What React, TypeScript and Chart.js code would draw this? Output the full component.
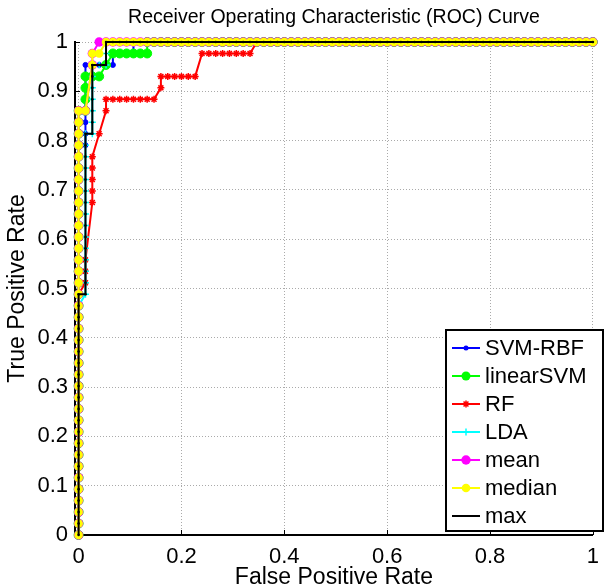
import React, { useEffect, useRef } from "react";
import { Chart, registerables } from "chart.js";

Chart.register(...registerables);

const NEGATIVES = 75;
const POSITIVES = 43;

const xTickValues = [0, 0.2, 0.4, 0.6, 0.8, 1];
const yTickValues = [0, 0.1, 0.2, 0.3, 0.4, 0.5, 0.6, 0.7, 0.8, 0.9, 1];

const chartTitle = "Receiver Operating Characteristic (ROC) Curve";
const xAxisTitle = "False Positive Rate";
const yAxisTitle = "True Positive Rate";

const seriesNames = ["SVM-RBF", "linearSVM", "RF", "LDA", "mean", "median", "max"];
const seriesColors = ["#0000ff", "#00ff00", "#ff0000", "#00ffff", "#ff00ff", "#ffff00", "#000000"];

// ROC paths: [negatives passed, positives passed, repeat]
const svmRbfMoves = [[0, 1, 34], [1, 0, 1], [0, 1, 7], [1, 0, 4], [0, 1, 1], [1, 0, 3], [0, 1, 1], [1, 0, 67]];
const linearSvmMoves = [[0, 1, 37], [1, 0, 1], [0, 1, 3], [1, 0, 2], [1, 1, 1], [1, 1, 1], [1, 0, 5], [0, 1, 1], [1, 0, 65]];
const rfMoves = [[0, 1, 21], [1, 1, 1], [0, 1, 2], [1, 5, 1], [0, 1, 4], [1, 2, 1], [1, 2, 1], [0, 1, 1], [1, 0, 7], [1, 1, 1], [0, 1, 1], [1, 0, 5], [1, 2, 1], [1, 0, 7], [1, 1, 1], [1, 0, 49]];
const ldaMoves = [[0, 1, 20], [1, 1, 1], [0, 1, 14], [1, 0, 1], [0, 1, 6], [1, 0, 2], [0, 1, 2], [1, 0, 71]];
const meanMoves = [[0, 1, 37], [1, 0, 1], [1, 4, 1], [0, 1, 1], [1, 1, 1], [1, 0, 72]];
const medianMoves = [[0, 1, 37], [1, 0, 1], [1, 4, 1], [0, 1, 1], [1, 0, 1], [1, 1, 1], [1, 0, 71]];
const maxMoves = [[0, 1, 21], [1, 0, 1], [0, 1, 14], [1, 0, 1], [0, 1, 6], [1, 0, 2], [0, 1, 2], [1, 0, 71]];

const seriesMoves = [svmRbfMoves, linearSvmMoves, rfMoves, ldaMoves, meanMoves, medianMoves, maxMoves];

type MarkerStyle = { style: string; radius: number; fill: boolean; width: number };
const seriesMarkers: MarkerStyle[] = [
  { style: "circle", radius: 2.5, fill: true, width: 1 },
  { style: "circle", radius: 4.5, fill: true, width: 1 },
  { style: "star", radius: 3.5, fill: false, width: 1.5 },
  { style: "cross", radius: 3.5, fill: false, width: 1.5 },
  { style: "circle", radius: 4.7, fill: true, width: 0 },
  { style: "circle", radius: 4.3, fill: true, width: 0 },
  { style: "circle", radius: 1.3, fill: true, width: 0 },
];

const FONT = "'Liberation Sans', Arial, sans-serif";

function buildPoints(moves: number[][]) {
  let fp = 0;
  let tp = 0;
  const pts = [{ x: 0, y: 0 }];
  for (const [dx, dy, n] of moves) {
    for (let i = 0; i < n; i++) {
      fp += dx;
      tp += dy;
      pts.push({ x: fp / NEGATIVES, y: tp / POSITIVES });
    }
  }
  return pts;
}

function drawMarker(ctx: CanvasRenderingContext2D, m: MarkerStyle, color: string, x: number, y: number) {
  ctx.save();
  ctx.fillStyle = color;
  ctx.strokeStyle = color;
  ctx.lineWidth = m.width || 1;
  const r = m.radius;
  ctx.beginPath();
  if (m.style === "circle") {
    ctx.arc(x, y, r, 0, Math.PI * 2);
    ctx.fill();
  } else if (m.style === "cross") {
    ctx.moveTo(x - r, y);
    ctx.lineTo(x + r, y);
    ctx.moveTo(x, y - r);
    ctx.lineTo(x, y + r);
    ctx.stroke();
  } else if (m.style === "star") {
    const d = r * 0.7;
    ctx.moveTo(x - r, y);
    ctx.lineTo(x + r, y);
    ctx.moveTo(x, y - r);
    ctx.lineTo(x, y + r);
    ctx.moveTo(x - d, y - d);
    ctx.lineTo(x + d, y + d);
    ctx.moveTo(x - d, y + d);
    ctx.lineTo(x + d, y - d);
    ctx.stroke();
  }
  ctx.restore();
}

const decorPlugin = {
  id: "decor",
  beforeDatasetsDraw(chart: any) {
    const { ctx, chartArea, scales } = chart;
    ctx.save();
    ctx.strokeStyle = "#000";
    ctx.lineWidth = 1;
    ctx.beginPath();
    for (const v of yTickValues) {
      const py = Math.round(scales.y.getPixelForValue(v)) + 0.5;
      ctx.moveTo(chartArea.left, py);
      ctx.lineTo(chartArea.left + 5, py);
    }
    for (const v of xTickValues) {
      const px = Math.round(scales.x.getPixelForValue(v)) + 0.5;
      ctx.moveTo(px, chartArea.bottom);
      ctx.lineTo(px, chartArea.bottom - 5);
    }
    ctx.stroke();
    ctx.restore();
  },
  afterDraw(chart: any) {
    const { ctx, chartArea } = chart;
    ctx.save();
    ctx.fillStyle = "#000";
    ctx.font = `19.5px ${FONT}`;
    ctx.textAlign = "center";
    ctx.textBaseline = "middle";
    ctx.fillText(chartTitle, (chartArea.left + chartArea.right) / 2, 18);
    ctx.restore();

    const boxL = 446;
    const boxR = 603;
    const boxT = 330;
    const boxB = 531;
    ctx.save();
    ctx.fillStyle = "#fff";
    ctx.fillRect(boxL, boxT, boxR - boxL, boxB - boxT);
    ctx.strokeStyle = "#000";
    ctx.lineWidth = 2;
    ctx.strokeRect(boxL, boxT, boxR - boxL, boxB - boxT);
    ctx.font = `22px ${FONT}`;
    ctx.textAlign = "left";
    ctx.textBaseline = "middle";
    seriesNames.forEach((name, i) => {
      const cy = 348 + i * 28;
      ctx.strokeStyle = seriesColors[i];
      ctx.lineWidth = 2;
      ctx.beginPath();
      ctx.moveTo(452, cy);
      ctx.lineTo(480, cy);
      ctx.stroke();
      if (name !== "max") drawMarker(ctx, seriesMarkers[i], seriesColors[i], 466, cy);
      ctx.fillStyle = "#000";
      ctx.fillText(name, 485, cy + 1);
    });
    ctx.restore();
  },
};

export default function App() {
  const ref = useRef<HTMLCanvasElement | null>(null);
  useEffect(() => {
    if (!ref.current) return;
    const datasets = seriesNames.map((name, i) => {
      const m = seriesMarkers[i];
      return {
        label: name,
        data: buildPoints(seriesMoves[i]),
        borderColor: seriesColors[i],
        backgroundColor: seriesColors[i],
        borderWidth: 2,
        pointStyle: m.style,
        pointRadius: m.radius,
        pointBorderWidth: m.width,
        pointBackgroundColor: seriesColors[i],
        pointBorderColor: seriesColors[i],
        showLine: true,
        tension: 0,
        clip: false as any,
        order: seriesNames.length - i,
      };
    });
    const chart = new Chart(ref.current, {
      type: "line",
      data: { datasets },
      options: {
        animation: false,
        responsive: false,
        devicePixelRatio: 1,
        layout: { padding: { top: 42, right: 3, left: 0, bottom: 0 } },
        plugins: {
          legend: { display: false },
          title: { display: false },
          tooltip: { enabled: false },
        },
        scales: {
          x: {
            type: "linear",
            min: -0.007,
            max: 1,
            afterBuildTicks: (s: any) => {
              s.ticks = xTickValues.map((v) => ({ value: v }));
            },
            afterFit: (s: any) => {
              s.height = 53;
            },
            grid: { color: "#aaaaaa", lineWidth: 1, drawTicks: false },
            border: { display: true, color: "#000", width: 2, dash: [1, 2] },
            ticks: {
              color: "#000",
              padding: 9,
              maxRotation: 0,
              font: { family: FONT, size: 22 },
              callback: (v: any) => String(v),
            },
            title: {
              display: true,
              text: xAxisTitle,
              color: "#000",
              font: { family: FONT, size: 23, lineHeight: 1.0 },
              padding: { top: 0, bottom: -1 },
            },
          },
          y: {
            type: "linear",
            min: 0,
            max: 1,
            afterBuildTicks: (s: any) => {
              s.ticks = yTickValues.map((v) => ({ value: v }));
            },
            afterFit: (s: any) => {
              s.width = 75;
            },
            grid: { color: "#aaaaaa", lineWidth: 1, drawTicks: false },
            border: { display: true, color: "#000", width: 2, dash: [1, 2] },
            ticks: {
              color: "#000",
              padding: 7,
              font: { family: FONT, size: 22 },
              callback: (v: any) => String(v),
            },
            title: {
              display: true,
              text: yAxisTitle,
              color: "#000",
              font: { family: FONT, size: 23 },
              padding: { top: 4, bottom: 0 },
            },
          },
        },
      } as any,
      plugins: [decorPlugin],
    });
    return () => chart.destroy();
  }, []);
  return (
    <canvas
      ref={ref}
      width={608}
      height={588}
      style={{ position: "absolute", left: 0, top: 0, display: "block" }}
    />
  );
}
